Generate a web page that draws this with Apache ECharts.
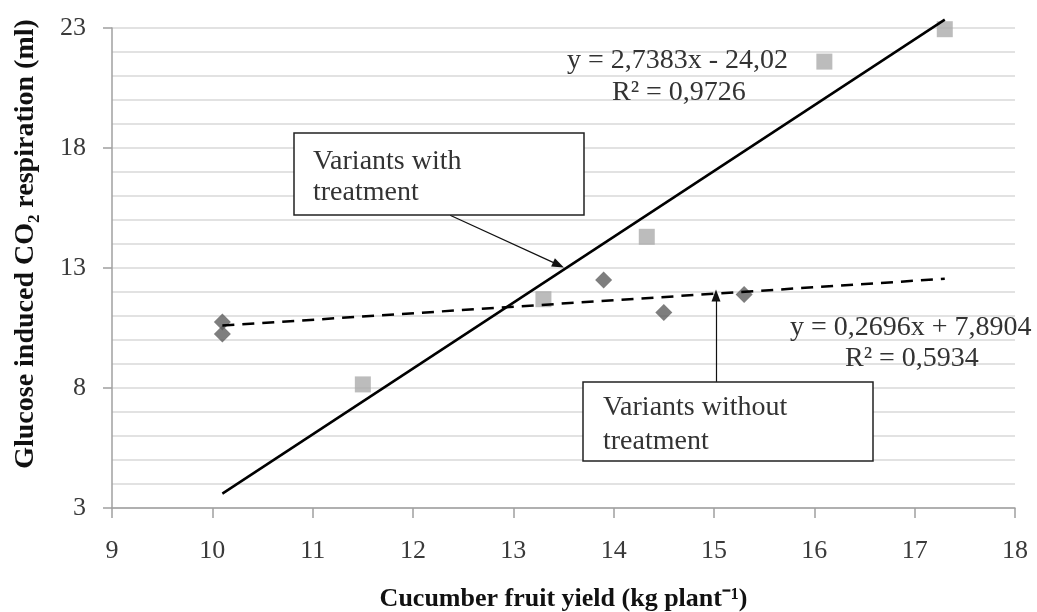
<!DOCTYPE html>
<html><head><meta charset="utf-8">
<script src="https://cdn.jsdelivr.net/npm/echarts@6/dist/echarts.min.js"></script>
<style>html,body{margin:0;padding:0;background:#fff;} #c{width:1037px;height:612px;}</style>
</head><body><div id="c"></div>
<script>
// ---- data ----
const treatedX = [11.5, 13.3, 14.33, 16.1, 17.3];
const treatedY = [8.15, 11.7, 14.3, 21.6, 22.95];
const untreatedX = [10.1, 10.1, 13.9, 14.5, 15.3];
const untreatedY = [10.75, 10.25, 12.5, 11.15, 11.9];
const trendTreated = [[10.1, 3.6], [17.3, 23.35]];
const trendUntreated = [[10.1, 10.6], [17.3, 12.55]];
const arrowTreated = [[12.37, 15.2], [13.45, 13.13]];
const arrowUntreated = [[15.02, 8.25], [15.02, 11.85]];
const xName = 'Cucumber fruit yield (kg plant\u207B\u00B9)';
const yName = 'Glucose induced CO\u2082 respiration (ml)';
const eqTreated = ['y = 2,7383x - 24,02', 'R\u00B2 = 0,9726'];
const eqUntreated = ['y = 0,2696x + 7,8904', 'R\u00B2 = 0,5934'];
const boxTreated = 'Variants with\ntreatment';
const boxUntreated = 'Variants without\ntreatment';

const FONT = "'Liberation Serif','Times New Roman',serif";
const zip = (xs, ys) => xs.map((x, i) => [x, ys[i]]);

const chart = echarts.init(document.getElementById('c'), null, {renderer: 'canvas'});
chart.setOption({
  backgroundColor: '#fff',
  animation: false,
  grid: {left: 112, right: 22, top: 28, bottom: 104, containLabel: false, outerBoundsMode: 'none'},
  xAxis: {
    type: 'value', min: 9, max: 18, interval: 1,
    name: xName, nameLocation: 'middle', nameGap: 78,
    nameTextStyle: {fontFamily: FONT, fontWeight: 'bold', fontSize: 26, color: '#111'},
    axisLine: {onZero: false, lineStyle: {color: '#a0a0a0', width: 1.5}},
    axisTick: {show: true, length: 10, lineStyle: {color: '#a0a0a0', width: 1.5}},
    axisLabel: {fontFamily: FONT, fontSize: 26, color: '#3a3a3a', margin: 30},
    splitLine: {show: false}
  },
  yAxis: {
    type: 'value', min: 3, max: 23, interval: 5,
    name: yName, nameLocation: 'middle', nameGap: 72, nameRotate: 90,
    nameTextStyle: {fontFamily: FONT, fontWeight: 'bold', fontSize: 28, color: '#111', padding: [0, 0, 0, 48]},
    axisLine: {show: true, onZero: false, lineStyle: {color: '#a0a0a0', width: 1.5}},
    axisTick: {show: true, length: 9, lineStyle: {color: '#a0a0a0', width: 1.5}},
    axisLabel: {fontFamily: FONT, fontSize: 26, color: '#3a3a3a', margin: 26},
    splitLine: {show: true, lineStyle: {color: '#d9d9d9', width: 1.5}},
    minorTick: {show: false, splitNumber: 5},
    minorSplitLine: {show: true, lineStyle: {color: '#d9d9d9', width: 1.5}}
  },
  series: [
    {
      type: 'scatter', name: 'treated', data: zip(treatedX, treatedY),
      symbol: 'rect', symbolSize: 16, itemStyle: {color: '#ababab'}, z: 2
    },
    {
      type: 'scatter', name: 'untreated', data: zip(untreatedX, untreatedY),
      symbol: 'diamond', symbolSize: [17, 17], itemStyle: {color: '#5e5e5e'}, z: 2
    },
    {
      type: 'line', data: trendTreated, symbol: 'none', clip: false, z: 3,
      lineStyle: {color: '#000', width: 2.5, type: 'solid'}
    },
    {
      type: 'line', data: trendUntreated, symbol: 'none', clip: false, z: 3,
      lineStyle: {color: '#000', width: 2.5, type: [12, 8]},
      markLine: {
        silent: true, symbol: ['none', 'triangle'], symbolSize: [9, 12],
        label: {show: false},
        lineStyle: {color: '#111', width: 1.2, type: 'solid'},
        data: [
          [{coord: arrowTreated[0]}, {coord: arrowTreated[1]}],
          [{coord: arrowUntreated[0]}, {coord: arrowUntreated[1]}]
        ]
      }
    }
  ],
  graphic: [
    {type: 'rect', shape: {x: 294, y: 133, width: 290, height: 82}, z: 10,
     style: {fill: '#fff', stroke: '#222', lineWidth: 1.5}},
    {type: 'text', x: 313, y: 146, z: 11,
     style: {text: boxTreated, font: '28px ' + FONT, fill: '#333', lineHeight: 31}},
    {type: 'rect', shape: {x: 583, y: 382, width: 290, height: 79}, z: 10,
     style: {fill: '#fff', stroke: '#222', lineWidth: 1.5}},
    {type: 'text', x: 603, y: 391, z: 11,
     style: {text: boxUntreated, font: '28px ' + FONT, fill: '#333', lineHeight: 34}},
    {type: 'text', x: 567, y: 61, z: 11,
     style: {text: eqTreated[0], font: '28px ' + FONT, fill: '#333', verticalAlign: 'middle'}},
    {type: 'text', x: 612, y: 93, z: 11,
     style: {text: eqTreated[1], font: '28px ' + FONT, fill: '#333', verticalAlign: 'middle'}},
    {type: 'text', x: 790, y: 328, z: 11,
     style: {text: eqUntreated[0], font: '28px ' + FONT, fill: '#333', verticalAlign: 'middle'}},
    {type: 'text', x: 845, y: 359, z: 11,
     style: {text: eqUntreated[1], font: '28px ' + FONT, fill: '#333', verticalAlign: 'middle'}}
  ]
});
</script></body></html>
